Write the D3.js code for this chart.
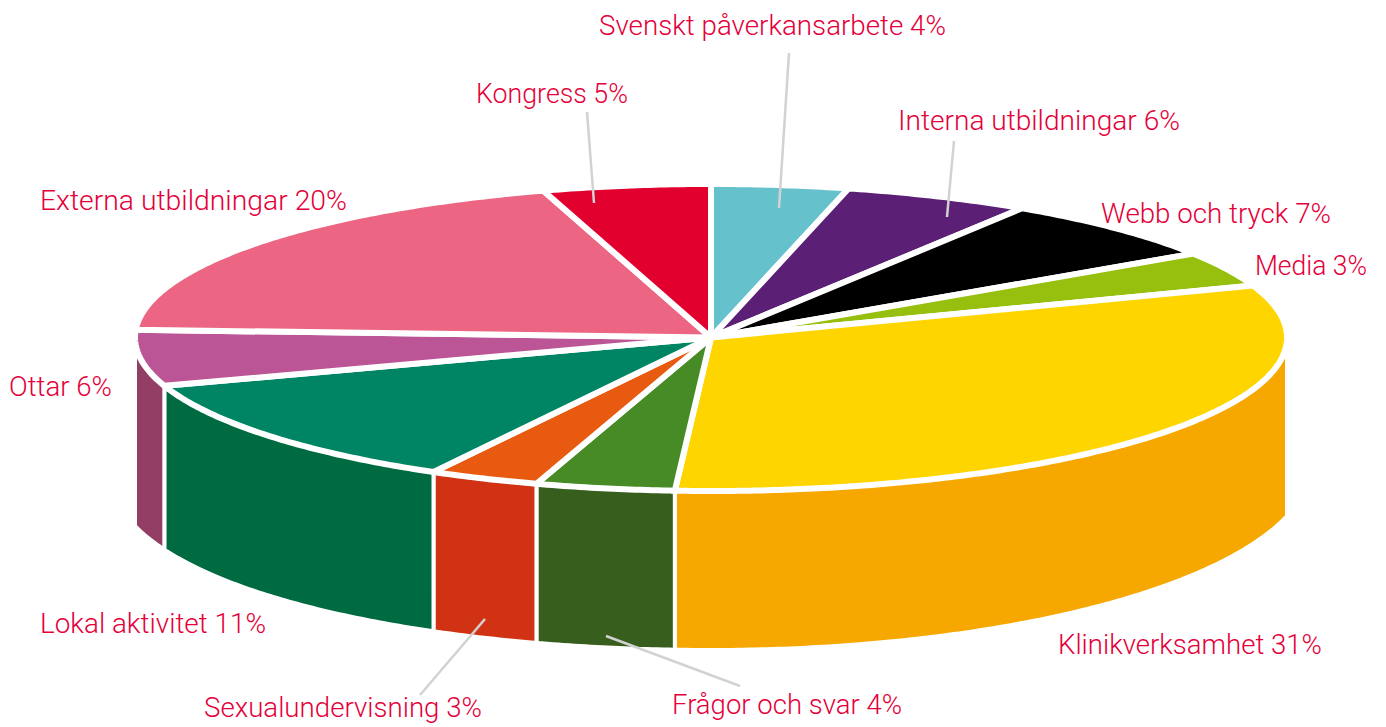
<!DOCTYPE html>
<html>
<head>
<meta charset="utf-8">
<script src="https://cdn.jsdelivr.net/npm/d3@7"></script>
<style>
  html, body { margin: 0; padding: 0; background: #fff; overflow: hidden; }
  text { font-family: Roboto, sans-serif; font-weight: 300; }
</style>
</head>
<body>
<div id="chart"></div>
<script>
// clockwise from twelve o'clock
const categories = ["Svenskt påverkansarbete", "Interna utbildningar", "Webb och tryck", "Media",
  "Klinikverksamhet", "Frågor och svar", "Sexualundervisning", "Lokal aktivitet", "Ottar",
  "Externa utbildningar", "Kongress"];
// the printed percentages
const values = [4, 6, 7, 3, 31, 4, 3, 11, 6, 20, 5];
// the shares as they are actually drawn (not quite the printed ones)
const drawnShares = [3.84, 5.24, 6.72, 3.7, 31.5, 3.9, 3.1, 11.9, 5.9, 19.5, 4.7];
const topColors = ["#65c1cc", "#5b1f76", "#000000", "#97bf0d", "#ffd500", "#478b26", "#e85a10",
  "#008564", "#bb5596", "#ec6683", "#e2002e"];
const sideColors = ["#65c1cc", "#5b1f76", "#000000", "#97bf0d", "#f6a800", "#385e1e", "#d13214",
  "#006a41", "#933f65", "#ec6683", "#e2002e"];

// label placement: left x, baseline y, width, optional leader line [x1, y1, x2, y2]
const labelLayout = [
  [599, 35, 347, [789, 53, 779, 208]],
  [898, 130, 282, [954, 141, 947, 217]],
  [1101, 223, 230],
  [1255, 275, 112],
  [1058, 654, 264],
  [672, 714, 230, [740, 686, 606, 636]],
  [204, 717, 278, [420, 695, 485, 619]],
  [40, 633, 226],
  [9, 396, 103],
  [40, 210, 307],
  [476, 103, 152, [587, 112, 594, 203]]
];

const w = 1386, h = 727;
const cx = 711, cy = 337.5, rx = 576, ry = 153.5;
// lower edge of the wall is a flatter, wider ellipse than the top
const bottomCy = 464, bottomRx = 600, bottomRy = 186;
const leftSag = 0.00003; // the left end of the wall hangs a bit lower

const svg = d3.select("#chart").append("svg")
  .attr("width", w)
  .attr("height", h)
  .style("display", "block");

const pie = d3.pie().sort(null).value(d => d);
const slices = pie(drawnShares);

const xPos = d3.scaleLinear().domain([-1, 1]).range([cx - rx, cx + rx]);
const yPos = d3.scaleLinear().domain([-1, 1]).range([cy - ry, cy + ry]);

function angles(a0, a1) {
  let n = Math.max(2, Math.ceil((a1 - a0) / 0.01));
  return d3.range(n + 1).map(i => a0 + (a1 - a0) * i / n);
}

function topRim(a0, a1) {
  return angles(a0, a1).map(a => [xPos(Math.sin(a)), yPos(-Math.cos(a))]);
}

function bottomRim(a0, a1) {
  return angles(a0, a1).map(a => {
    let x = xPos(Math.sin(a));
    let dx = x - cx;
    let t = dx / bottomRx;
    let sag = dx < 0 ? leftSag * dx * dx : 0;
    return [x, bottomCy + bottomRy * Math.sqrt(1 - t * t) + sag];
  });
}

const line = d3.line();

// side walls, only the part that faces the viewer
svg.append("g").selectAll("path")
  .data(slices.filter(d => d.endAngle > Math.PI / 2 && d.startAngle < Math.PI * 1.5))
  .enter()
  .append("path")
  .attr("d", d => {
    let a0 = Math.max(d.startAngle, Math.PI / 2);
    let a1 = Math.min(d.endAngle, Math.PI * 1.5);
    return line(topRim(a0, a1).concat(bottomRim(a0, a1).reverse())) + "Z";
  })
  .attr("fill", d => sideColors[d.index])
  .attr("stroke", "#fff")
  .attr("stroke-width", 4)
  .attr("stroke-linejoin", "round");

// top face
svg.append("g").selectAll("path")
  .data(slices)
  .enter()
  .append("path")
  .attr("d", d => line([[cx, cy]].concat(topRim(d.startAngle, d.endAngle))) + "Z")
  .attr("fill", d => topColors[d.index])
  .attr("stroke", "#fff")
  .attr("stroke-width", 6)
  .attr("stroke-linejoin", "miter")
  .attr("stroke-miterlimit", 2);

// leaders
svg.append("g").selectAll("line")
  .data(labelLayout.filter(d => d[3]))
  .enter()
  .append("line")
  .attr("x1", d => d[3][0])
  .attr("y1", d => d[3][1])
  .attr("x2", d => d[3][2])
  .attr("y2", d => d[3][3])
  .attr("stroke", "#d2d2d2")
  .attr("stroke-width", 2.5);

svg.append("g").selectAll("text")
  .data(categories)
  .enter()
  .append("text")
  .attr("x", (d, i) => labelLayout[i][0])
  .attr("y", (d, i) => labelLayout[i][1])
  .attr("textLength", (d, i) => labelLayout[i][2])
  .attr("lengthAdjust", "spacingAndGlyphs")
  .attr("font-size", 28)
  .attr("fill", "#e4003a")
  .text((d, i) => d + " " + values[i] + "%");
</script>
</body>
</html>
